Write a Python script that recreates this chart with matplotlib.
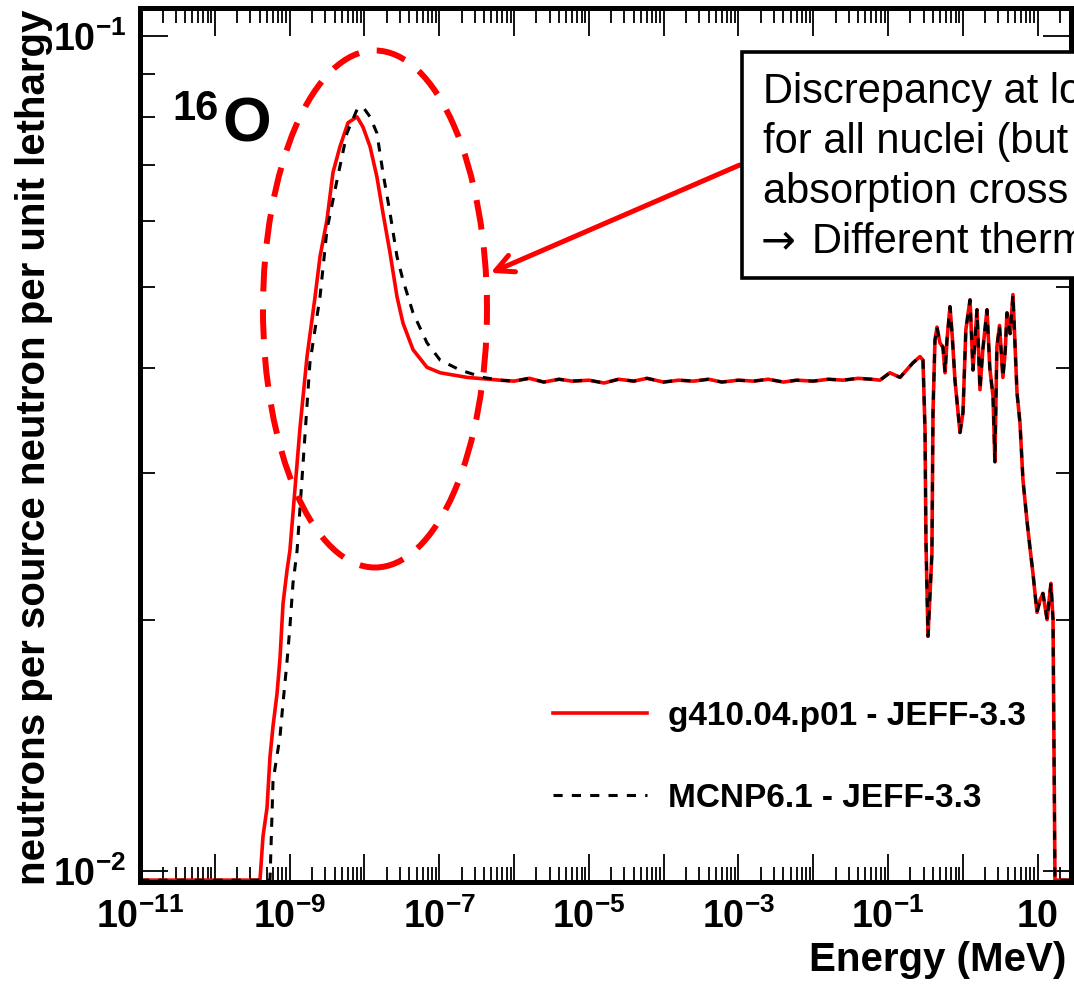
import numpy as np
import matplotlib
matplotlib.use("Agg")
import matplotlib.pyplot as plt
from matplotlib.patches import Ellipse, Rectangle
from matplotlib.ticker import LogLocator, FuncFormatter, NullFormatter

plt.rcParams['font.family'] = ['Liberation Sans', 'DejaVu Sans']
plt.rcParams['mathtext.fontset'] = 'custom'
plt.rcParams['mathtext.rm'] = 'Liberation Sans:bold'
plt.rcParams['mathtext.it'] = 'Liberation Sans:bold:italic'
plt.rcParams['mathtext.bf'] = 'Liberation Sans:bold'

# thermal part, g410 (Geant4) - JEFF-3.3
g4_energy = [1e-11, 4.02e-10, 4.41e-10, 4.99e-10, 5.47e-10, 6.0e-10, 6.79e-10, 7.45e-10,
             8.17e-10, 9.23e-10, 1.01e-9, 1.38e-9, 1.71e-9, 2.19e-9, 2.55e-9, 3.16e-9,
             3.80e-9, 4.72e-9, 6.04e-9, 7.96e-9, 9.57e-9, 1.19e-8, 1.47e-8, 1.77e-8,
             2.20e-8, 2.73e-8, 3.28e-8, 4.47e-8, 6.87e-8, 1.03e-7, 2.36e-7, 6.5e-7]
g4_flux = [0.00975, 0.00975, 0.0110, 0.0119, 0.0137, 0.0149, 0.0163, 0.0180,
           0.0209, 0.0229, 0.0242, 0.0340, 0.0413, 0.0487, 0.0544, 0.0602,
           0.0686, 0.0737, 0.0787, 0.0800, 0.0778, 0.0737, 0.0678, 0.0614,
           0.0550, 0.0487, 0.0453, 0.0421, 0.0401, 0.0395, 0.0390, 0.0387]

# thermal part, MCNP6.1 - JEFF-3.3
mcnp_energy = [1e-11, 5.47e-10, 6.0e-10, 7.45e-10, 8.17e-10, 9.23e-10, 1.01e-9, 1.11e-9,
               1.26e-9, 1.87e-9, 2.55e-9, 3.16e-9, 4.31e-9, 5.85e-9, 7.96e-9, 9.57e-9,
               1.19e-8, 1.47e-8, 1.77e-8, 2.20e-8, 2.73e-8, 3.28e-8, 4.47e-8, 6.87e-8,
               1.03e-7, 1.90e-7, 3.85e-7, 6.5e-7]
mcnp_flux = [0.00975, 0.00975, 0.0128, 0.0145, 0.0159, 0.0178, 0.0196, 0.0221,
             0.0242, 0.0406, 0.0487, 0.0586, 0.0672, 0.0765, 0.0816, 0.0822,
             0.0800, 0.0765, 0.0686, 0.0614, 0.0544, 0.0510, 0.0466, 0.0429,
             0.0409, 0.0398, 0.0390, 0.0387]

# epithermal + fast part (both codes agree)
fast_energy = [1.0e-6, 1.6e-6, 2.5e-6, 4e-6, 6e-6, 1e-5, 1.6e-5, 2.5e-5, 4e-5, 6e-5,
               1e-4, 1.6e-4, 2.5e-4, 4e-4, 6e-4, 1e-3, 1.6e-3, 2.5e-3, 4e-3, 6e-3,
               1e-2, 1.6e-2, 2.5e-2, 4e-2, 6e-2, 0.078, 0.106, 0.145, 0.216, 0.268,
               0.294, 0.313, 0.322, 0.343, 0.387, 0.40, 0.425, 0.452, 0.495, 0.543,
               0.58, 0.615, 0.675, 0.72, 0.787, 0.918, 1.007, 1.1, 1.25, 1.37,
               1.55, 1.70, 1.85, 2.11, 2.3, 2.54, 2.69, 2.86, 3.1, 3.44,
               3.7, 3.90, 4.3, 4.69, 5.31, 5.82, 6.38, 7.21, 7.91, 8.69,
               9.82, 10.8, 11.8, 13.4, 15.1, 16.1, 17.1, 28.0]
fast_flux = [0.0386, 0.0389, 0.0385, 0.0388, 0.0386, 0.0387, 0.0384, 0.0388, 0.0386, 0.0389,
             0.0385, 0.0387, 0.0386, 0.0388, 0.0385, 0.0387, 0.0386, 0.0388, 0.0385, 0.0387,
             0.0386, 0.0388, 0.0387, 0.0389, 0.0388, 0.0387, 0.0395, 0.0390, 0.0406, 0.0413,
             0.0409, 0.0337, 0.0249, 0.0191, 0.0240, 0.0354, 0.0432, 0.0448, 0.0429, 0.0424,
             0.0395, 0.0432, 0.0474, 0.0440, 0.0387, 0.0335, 0.0354, 0.0445, 0.0483, 0.0398,
             0.0470, 0.0377, 0.0420, 0.0470, 0.0400, 0.0370, 0.0309, 0.0424, 0.0450, 0.0390,
             0.0420, 0.0466, 0.0440, 0.0490, 0.0374, 0.0344, 0.0294, 0.0263, 0.0244, 0.0227,
             0.0204, 0.0211, 0.0215, 0.0200, 0.0221, 0.0200, 0.00975, 0.00975]

W, H = 1074, 993


def fig_xy(x, y):
    # pixel position (from top-left) -> figure fraction
    return x / W, 1 - y / H


fig = plt.figure(figsize=(W / 100, H / 100), dpi=100)
ax = fig.add_axes([140 / W, 1 - 882 / H, 931 / W, 874 / H])

ax.plot(g4_energy + fast_energy, g4_flux + fast_flux, color='#ff0000', lw=2.6,
        label='g410.04.p01 - JEFF-3.3', zorder=2)
ax.plot(mcnp_energy + fast_energy, mcnp_flux + fast_flux, color='black', lw=2.2,
        dashes=(3, 3), label='MCNP6.1 - JEFF-3.3', zorder=3)

ax.set_xscale('log')
ax.set_yscale('log')
ax.set_xlim(1e-11, 28)
ax.set_ylim(0.0097, 0.108)

ax.xaxis.set_major_locator(LogLocator(base=10, numticks=30))
ax.xaxis.set_minor_locator(LogLocator(base=10, subs=np.arange(2, 10), numticks=30))
ax.yaxis.set_major_locator(LogLocator(base=10, numticks=10))
ax.yaxis.set_minor_locator(LogLocator(base=10, subs=np.arange(2, 10), numticks=10))


def xfmt(v, pos):
    e = int(round(np.log10(v)))
    if e % 2 == 0:
        return ''
    if e == 1:
        return r'$10$'
    return r'$10^{%d}$' % e


ax.xaxis.set_major_formatter(FuncFormatter(xfmt))
ax.xaxis.set_minor_formatter(NullFormatter())
ax.yaxis.set_major_formatter(FuncFormatter(lambda v, p: r'$10^{%d}$' % int(round(np.log10(v)))))
ax.yaxis.set_minor_formatter(NullFormatter())

ax.tick_params(which='both', direction='in', top=True, right=True, width=1.3, labelsize=27)
ax.tick_params(which='major', length=20)
ax.tick_params(which='minor', length=11)
ax.tick_params(axis='x', which='major', pad=12)
ax.tick_params(axis='y', which='major', pad=10)
for s in ax.spines.values():
    s.set_linewidth(3.6)

ax.set_ylabel('neutrons per source neutron per unit lethargy', fontsize=29, fontweight='bold')
ax.yaxis.set_label_coords(-0.093, 0.497)
ax.set_xlabel('Energy (MeV)', fontsize=29, fontweight='bold', loc='right')
ax.xaxis.set_label_coords(0.995, -0.068)

leg = ax.legend(loc='upper left', bbox_to_anchor=fig_xy(553, 701), bbox_transform=fig.transFigure,
                frameon=False, prop={'size': 24, 'weight': 'bold'}, handlelength=2.82,
                handletextpad=0.63, labelspacing=1.53, borderpad=0, borderaxespad=0)

# isotope label
fig.text(*fig_xy(172, 120), '16', fontsize=30, fontweight='bold', va='baseline')
fig.text(*fig_xy(222, 141), 'O', fontsize=45, fontweight='bold', va='baseline')

# dashed ellipse around the thermal peak
ell = Ellipse((0.2524, 0.6556), 0.2406, 0.5915, transform=ax.transAxes, fill=False,
              ec='#ff0000', lw=4.3, linestyle=(0, (5, 3)), clip_on=False, zorder=4)
ax.add_patch(ell)

# arrow and comment box
fig.add_artist(matplotlib.patches.FancyArrowPatch(fig_xy(742, 164), fig_xy(488, 274),
               transform=fig.transFigure, arrowstyle='->', mutation_scale=32,
               color='#ff0000', lw=3.6, zorder=5))
bx, by = fig_xy(742, 278)
fig.add_artist(Rectangle((bx, by), 0.4, 226 / H, transform=fig.transFigure,
                         fc='white', ec='black', lw=2.6, zorder=6))
box_lines = ['Discrepancy at low', 'for all nuclei (but', 'absorption cross']
for i, line in enumerate(box_lines):
    fig.text(*fig_xy(763, 103 + 50 * i), line, fontsize=30, va='baseline', zorder=7)
fig.text(*fig_xy(761, 253), '\u2192', fontsize=30, va='baseline', zorder=7,
         family='DejaVu Sans')
fig.text(*fig_xy(812, 253), 'Different thermal', fontsize=30, va='baseline', zorder=7)

fig.savefig('out.png', dpi=100)
